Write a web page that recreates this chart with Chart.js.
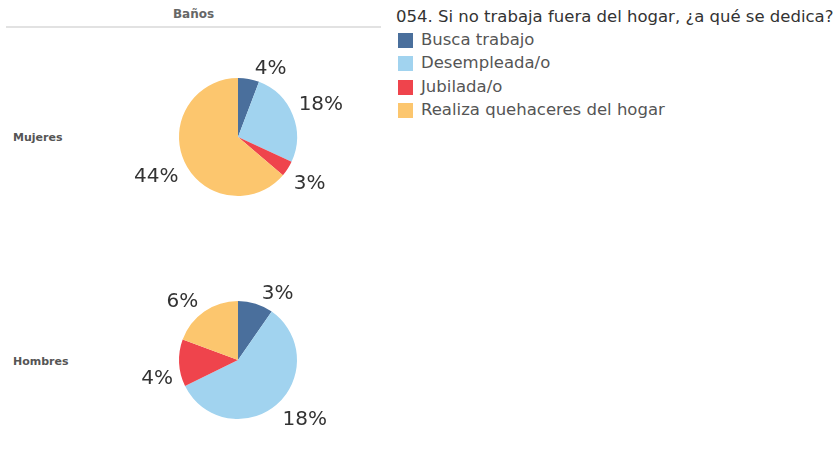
<!DOCTYPE html>
<html>
<head>
<meta charset="utf-8">
<script src="https://cdn.jsdelivr.net/npm/chart.js@4/dist/chart.umd.min.js"></script>
<style>
  html, body { margin: 0; padding: 0; background: #fff; }
  body { width: 836px; height: 468px; position: relative; overflow: hidden; font-family: "DejaVu Sans", sans-serif; }
  .abs { position: absolute; }
  #colHeader { left: 6px; top: 7px; width: 375px; text-align: center; font-size: 12px; font-weight: bold; color: #666; }
  #colRule { left: 6px; top: 26px; width: 375px; height: 2px; background: #e2e2e2; }
  .rowLabel { left: 13px; font-size: 11px; font-weight: bold; color: #555; }
  #legendTitle { left: 396px; top: 7px; font-size: 16.5px; color: #333; white-space: nowrap; }
  .legItem { left: 398px; height: 16px; white-space: nowrap; }
  .legItem .sw { position: absolute; left: 0; top: 0; width: 15px; height: 15px; }
  .legItem .tx { position: absolute; left: 23px; top: -3px; font-size: 16.5px; color: #555; }
  canvas { position: absolute; }
</style>
</head>
<body>
<div id="colHeader" class="abs"></div>
<div id="colRule" class="abs"></div>
<div id="rowM" class="abs rowLabel" style="top:131px"></div>
<div id="rowH" class="abs rowLabel" style="top:355px"></div>
<div id="legendTitle" class="abs"></div>
<div id="legend"></div>
<div style="position:absolute;left:108px;top:27px;width:260px;height:220px"><canvas id="pieM"></canvas></div>
<div style="position:absolute;left:108px;top:250px;width:260px;height:220px"><canvas id="pieH"></canvas></div>
<script>
// Question and answer categories
const question = "054. Si no trabaja fuera del hogar, ¿a qué se dedica?";
const columnHeader = "Baños";
const categories = ["Busca trabajo", "Desempleada/o", "Jubilada/o", "Realiza quehaceres del hogar"];
const groups = ["Mujeres", "Hombres"];

// Share of all respondents (%) per group and answer
const mujeresValues = [4, 18, 3, 44];
const hombresValues = [3, 18, 4, 6];

const palette = ["#4a6f9c", "#a1d3ef", "#ef444c", "#fcc66e"];

document.getElementById("colHeader").textContent = columnHeader;
document.getElementById("rowM").textContent = groups[0];
document.getElementById("rowH").textContent = groups[1];
document.getElementById("legendTitle").textContent = question;

const legend = document.getElementById("legend");
categories.forEach((c, i) => {
  const item = document.createElement("div");
  item.className = "abs legItem";
  item.style.top = (33 + i * 23.3) + "px";
  item.innerHTML = '<div class="sw" style="background:' + palette[i] + '"></div><div class="tx"></div>';
  item.querySelector(".tx").textContent = c;
  legend.appendChild(item);
});

// Percent labels: each one sits off the slice's outer edge at its mid angle,
// with the text box pushed diagonally away from the pie (per quadrant).
const outsideLabels = {
  id: "outsideLabels",
  afterDatasetsDraw(chart) {
    const ctx = chart.ctx;
    const meta = chart.getDatasetMeta(0);
    const data = chart.data.datasets[0].data;
    const capH = 14.6;
    ctx.save();
    ctx.font = "20px 'DejaVu Sans', sans-serif";
    ctx.fillStyle = "#333";
    ctx.textBaseline = "alphabetic";
    meta.data.forEach((arc, i) => {
      const p = arc.getProps(["x", "y", "startAngle", "endAngle", "outerRadius"], true);
      const mid = (p.startAngle + p.endAngle) / 2;
      const ex = p.x + Math.cos(mid) * p.outerRadius;
      const ey = p.y + Math.sin(mid) * p.outerRadius;
      const right = Math.cos(mid) >= 0;
      const below = Math.sin(mid) > 0;
      ctx.textAlign = right ? "left" : "right";
      const tx = ex + (right ? 6 : -6);
      const ty = below ? ey + 6 + capH : ey - 5;
      ctx.fillText(data[i] + "%", tx, ty);
    });
    ctx.restore();
  }
};

function makePie(id, values) {
  return new Chart(document.getElementById(id), {
    type: "pie",
    data: {
      labels: categories,
      datasets: [{ data: values, backgroundColor: palette, borderWidth: 0 }]
    },
    options: {
      responsive: true,
      maintainAspectRatio: false,
      animation: false,
      layout: { padding: { left: 71, right: 71, top: 51, bottom: 51 } },
      plugins: { legend: { display: false }, tooltip: { enabled: false } }
    },
    plugins: [outsideLabels]
  });
}

makePie("pieM", mujeresValues);
makePie("pieH", hombresValues);
</script>
</body>
</html>
